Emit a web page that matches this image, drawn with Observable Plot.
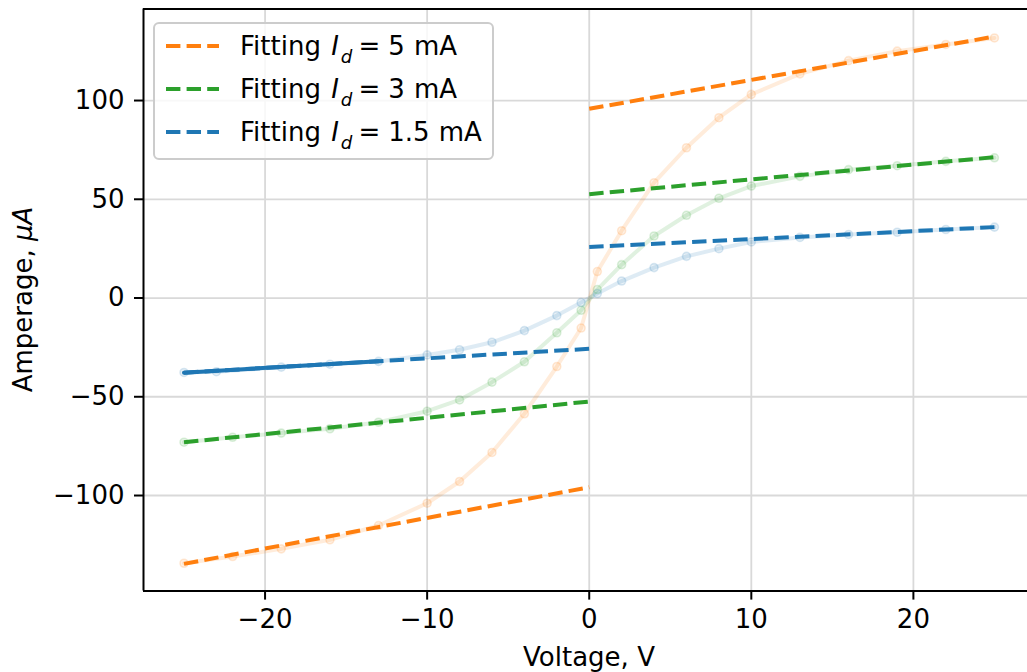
<!DOCTYPE html>
<html><head><meta charset="utf-8">
<script src="https://cdn.jsdelivr.net/npm/d3@7"></script>
<script src="https://cdn.jsdelivr.net/npm/@observablehq/plot@0.6"></script>
<style>
html,body{margin:0;padding:0;background:#fff;overflow:hidden}
#chart svg{display:block}
</style></head><body><div id="chart"></div>
<script>
// ---- data ----
const seriesNames = ["5", "3", "1.5"];
const seriesColors = ["#ff7f0e", "#2ca02c", "#1f77b4"];

const xOrange = [-25,-22,-19,-16,-13,-10,-8,-6,-4,-2,-0.5,0.5,2,4,6,8,10,13,16,19,22,25];
const yOrange = [-134.3,-130.9,-127.0,-122.4,-115.2,-103.9,-92.9,-78.2,-58.6,-34.7,-15.2,13.4,34.1,58.4,76.1,91.3,103.1,113.5,120.2,125.0,128.4,131.7];
const xGreen = [-25,-22,-19,-16,-13,-10,-8,-6,-4,-2,-0.5,0.5,2,4,6,8,10,13,16,19,22,25];
const yGreen = [-73.0,-70.5,-68.4,-66.2,-62.9,-57.3,-51.6,-42.6,-32.3,-17.6,-6.2,4.3,16.9,31.4,41.9,50.5,56.7,61.6,65.0,67.0,69.2,71.0];
const xBlue = [-25,-23,-19,-16,-13,-10,-8,-6,-4,-2,-0.5,0.5,2,4,6,8,10,13,16,19,22,25];
const yBlue = [-37.7,-37.3,-35.0,-33.5,-32.1,-28.8,-26.2,-22.4,-16.5,-8.9,-2.3,2.3,8.6,15.4,21.1,25.0,28.4,30.7,32.2,33.3,34.7,35.9];

const fitXNeg = [-25, 0];
const fitXPos = [0, 25];
const fitOrangeNeg = [-134.6, -95.8];
const fitOrangePos = [95.8, 132.4];
const fitGreenNeg = [-73.0, -52.4];
const fitGreenPos = [52.6, 71.3];
const fitBlueNeg = [-37.8, -25.7];
const fitBluePos = [25.8, 35.9];

const blueSolidX = [-25, -13];
const blueSolidY = [-37.8, -32.0];

const xTicks = [-20, -10, 0, 10, 20];
const yTicks = [-100, -50, 0, 50, 100];
const xDomain = [-27.5, 27.04];
const yDomain = [-148.4, 146.4];

const legendLabels = ["5", "3", "1.5"];

// ---- build tables ----
const measured = [];
[[xOrange, yOrange], [xGreen, yGreen], [xBlue, yBlue]].forEach(([xs, ys], k) =>
  xs.forEach((x, i) => measured.push({series: seriesNames[k], x, y: ys[i]})));

const fits = [];
[[fitOrangeNeg, fitOrangePos], [fitGreenNeg, fitGreenPos], [fitBlueNeg, fitBluePos]].forEach(([neg, pos], k) => {
  fitXNeg.forEach((x, i) => fits.push({series: seriesNames[k], part: seriesNames[k] + "n", x, y: neg[i]}));
  fitXPos.forEach((x, i) => fits.push({series: seriesNames[k], part: seriesNames[k] + "p", x, y: pos[i]}));
});
const blueSolid = blueSolidX.map((x, i) => ({series: "1.5", x, y: blueSolidY[i]}));

const FS = 26;
const font = "DejaVu Sans";

const plot = Plot.plot({
  width: 1027, height: 672,
  marginLeft: 143, marginRight: 0, marginTop: 8.4, marginBottom: 81.4,
  style: {fontFamily: font, fontSize: FS + "px", background: "#fff", color: "#000", overflow: "hidden"},
  x: {domain: xDomain, label: null},
  y: {domain: yDomain, label: null},
  color: {domain: seriesNames, range: seriesColors},
  marks: [
    Plot.gridX(xTicks, {stroke: "#d9d9d9", strokeOpacity: 1, strokeWidth: 1.8}),
    Plot.gridY(yTicks, {stroke: "#d9d9d9", strokeOpacity: 1, strokeWidth: 1.8}),
    Plot.line(measured, {x: "x", y: "y", z: "series", stroke: "series", strokeOpacity: 0.15, strokeWidth: 4}),
    Plot.dot(measured, {x: "x", y: "y", r: 4, fill: "series", fillOpacity: 0.1, stroke: "series", strokeOpacity: 0.16, strokeWidth: 1.6}),
    Plot.line(fits, {x: "x", y: "y", z: "part", stroke: "series", strokeWidth: 4, strokeDasharray: "14.4,6.2", strokeLinecap: "butt"}),
    Plot.line(blueSolid, {x: "x", y: "y", stroke: "series", strokeWidth: 4, strokeLinecap: "round"}),
    Plot.axisX(xTicks, {tickSize: 9, tickPadding: 9, strokeWidth: 2, fontSize: FS, label: null, fill: "#000", stroke: "#000"}),
    Plot.axisY(yTicks, {tickSize: 9, tickPadding: 10, strokeWidth: 2, fontSize: FS, label: null, fill: "#000", stroke: "#000"}),
    Plot.ruleX([xDomain[0]], {stroke: "#000", strokeWidth: 2}),
    Plot.ruleY([yDomain[0], yDomain[1]], {stroke: "#000", strokeWidth: 2})
  ]
});

const svg = d3.select(plot);
const ys = plot.scale("y");

// axis labels
svg.append("text")
  .attr("x", 589)
  .attr("y", 666)
  .attr("text-anchor", "middle")
  .attr("font-family", font).attr("font-size", FS).attr("fill", "#000")
  .text("Voltage, V");

const yl = svg.append("text")
  .attr("transform", `translate(31.5,${(ys.range[0] + ys.range[1]) / 2}) rotate(-90)`)
  .attr("text-anchor", "middle")
  .attr("font-family", font).attr("font-size", FS).attr("fill", "#000")
  .style("white-space", "pre");
yl.append("tspan").text("Amperage, ");
yl.append("tspan").attr("font-style", "italic").text("μA");

// legend
const lg = svg.append("g").attr("text-anchor", "start");
lg.append("rect").attr("x", 154).attr("y", 23).attr("width", 339).attr("height", 136)
  .attr("rx", 5).attr("fill", "#fff").attr("fill-opacity", 0.8)
  .attr("stroke", "#cccccc").attr("stroke-width", 2);
legendLabels.forEach((lab, i) => {
  const cy = 46 + i * 43;
  lg.append("line").attr("x1", 166).attr("x2", 219).attr("y1", cy).attr("y2", cy)
    .attr("stroke", seriesColors[i]).attr("stroke-width", 4).attr("stroke-dasharray", "14.4,6.2");
  const t = lg.append("text").attr("x", 240).attr("y", cy + 9)
    .attr("text-anchor", "start")
    .attr("font-family", font).attr("font-size", FS).attr("fill", "#000")
    .style("white-space", "pre");
  t.append("tspan").text("Fitting ");
  t.append("tspan").attr("font-style", "italic").attr("dx", 2).text("I");
  t.append("tspan").attr("font-style", "italic").attr("font-size", FS * 0.7).attr("dx", 2).attr("dy", 8).text("d");
  t.append("tspan").attr("font-size", FS).attr("dx", 6).attr("dy", -8).text("=");
  t.append("tspan").attr("dx", 8).text(lab);
  t.append("tspan").attr("dx", 1).text(" mA");
});

document.getElementById("chart").appendChild(plot);
</script>
</body></html>
